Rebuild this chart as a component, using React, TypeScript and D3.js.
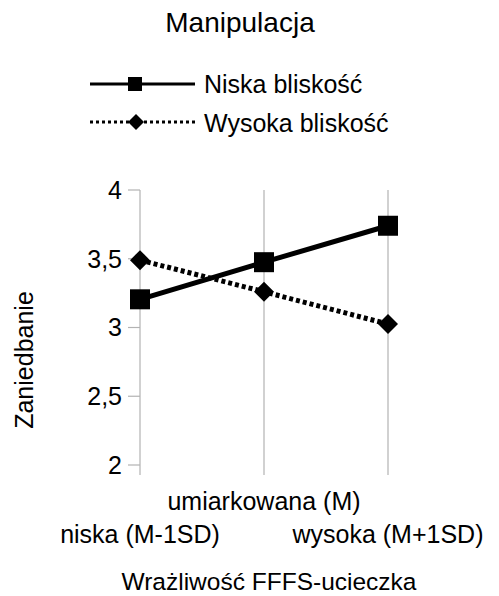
import React from "react";
import * as d3 from "d3";

const categories = ["niska (M-1SD)", "umiarkowana (M)", "wysoka (M+1SD)"];
const niskaValues = [3.205, 3.475, 3.74];
const wysokaValues = [3.49, 3.26, 3.025];
const yTicks = [2, 2.5, 3, 3.5, 4];
const seriesNames = ["Niska bliskość", "Wysoka bliskość"];

const W = 499;
const H = 596;
const FONT = "'Liberation Sans', Arial, sans-serif";

export default function App() {
  const x = d3.scalePoint<string>().domain(categories).range([140, 388]);
  const y = d3.scaleLinear().domain([2, 4]).range([465, 190]);
  const line = d3
    .line<number>()
    .x((_, i) => x(categories[i]) as number)
    .y((d) => y(d));
  const fmt = (v: number) => String(v).replace(".", ",");
  const diamond = (cx: number, cy: number, r: number) =>
    `M${cx},${cy - r}L${cx + r},${cy}L${cx},${cy + r}L${cx - r},${cy}Z`;

  return (
    <svg
      width={W}
      height={H}
      style={{ position: "absolute", left: 0, top: 0, background: "#fff" }}
      fontFamily={FONT}
    >
      <rect width={W} height={H} fill="#fff" />
      <text x={240} y={32} fontSize={28} textAnchor="middle" fill="#000">
        Manipulacja
      </text>

      {/* legend */}
      <line x1={90} x2={195} y1={84} y2={84} stroke="#000" strokeWidth={3} />
      <rect x={128} y={77} width={14} height={14} fill="#000" />
      <text x={204} y={93} fontSize={25} fill="#000">
        {seriesNames[0]}
      </text>
      <line
        x1={90}
        x2={195}
        y1={122}
        y2={122}
        stroke="#000"
        strokeWidth={3}
        strokeDasharray="3,3"
      />
      <path d={diamond(136, 122, 8)} fill="#000" />
      <text x={204} y={132} fontSize={25} fill="#000">
        {seriesNames[1]}
      </text>

      {/* grid / category lines */}
      {categories.map((c) => (
        <line
          key={c}
          x1={x(c)}
          x2={x(c)}
          y1={190}
          y2={475}
          stroke="#b3b3b3"
          strokeWidth={1.2}
        />
      ))}
      {yTicks.map((t) => (
        <g key={t}>
          <line x1={128} x2={140} y1={y(t)} y2={y(t)} stroke="#b3b3b3" strokeWidth={1.2} />
          <text
            x={122}
            y={y(t)}
            dy="0.35em"
            fontSize={25}
            textAnchor="end"
            fill="#000"
          >
            {fmt(t)}
          </text>
        </g>
      ))}

      {/* series */}
      <path d={line(wysokaValues) || ""} fill="none" stroke="#000" strokeWidth={5} strokeDasharray="4,3" />
      <path d={line(niskaValues) || ""} fill="none" stroke="#000" strokeWidth={5} />
      {niskaValues.map((v, i) => (
        <rect
          key={"n" + i}
          x={(x(categories[i]) as number) - 10}
          y={y(v) - 10}
          width={20}
          height={20}
          fill="#000"
        />
      ))}
      {wysokaValues.map((v, i) => (
        <path key={"w" + i} d={diamond(x(categories[i]) as number, y(v), 10)} fill="#000" />
      ))}

      {/* x labels */}
      <text x={x(categories[1])} y={510} fontSize={25} textAnchor="middle" fill="#000">
        {categories[1]}
      </text>
      <text x={x(categories[0])} y={543} fontSize={25} textAnchor="middle" fill="#000">
        {categories[0]}
      </text>
      <text x={x(categories[2])} y={543} fontSize={25} textAnchor="middle" fill="#000">
        {categories[2]}
      </text>
      <text x={269} y={590} fontSize={24.5} textAnchor="middle" fill="#000">
        Wrażliwość FFFS-ucieczka
      </text>
      <text
        transform={`translate(33,360) rotate(-90)`}
        fontSize={25}
        textAnchor="middle"
        fill="#000"
      >
        Zaniedbanie
      </text>
    </svg>
  );
}
